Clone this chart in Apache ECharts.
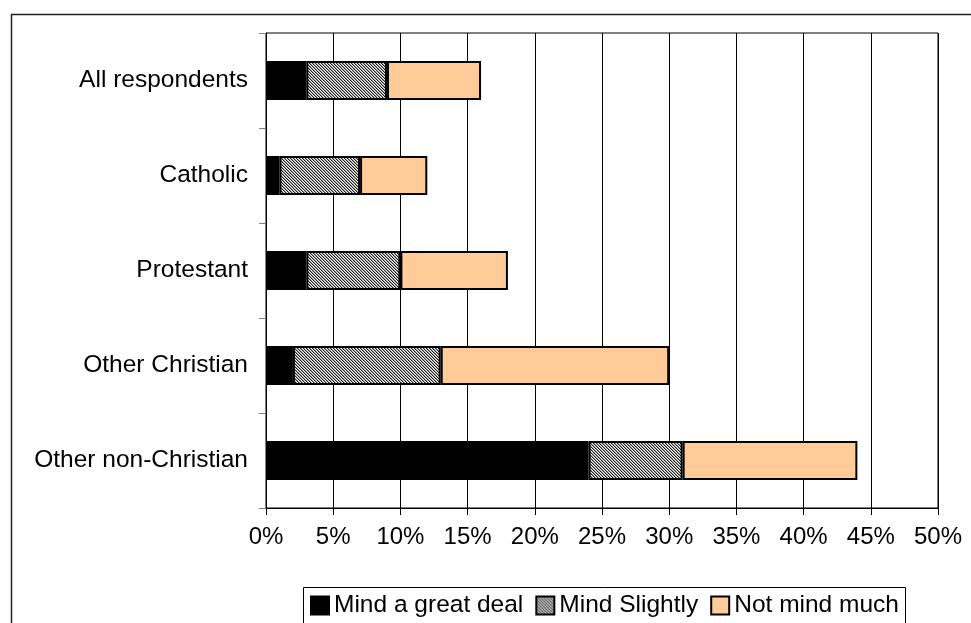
<!DOCTYPE html>
<html>
<head>
<meta charset="utf-8">
<script src="https://cdn.jsdelivr.net/npm/echarts@6/dist/echarts.min.js"></script>
<style>
html,body{margin:0;padding:0;background:#fff;}
#chart{width:971px;height:623px;}
</style>
</head>
<body>
<div id="chart"></div>
<script>
var categories = ['All respondents', 'Catholic', 'Protestant', 'Other Christian', 'Other non-Christian'];
var mindGreatDeal = [3, 1, 3, 2, 24];
var mindSlightly = [6, 6, 7, 11, 7];
var notMindMuch = [7, 5, 8, 17, 13];
var xTicks = [0, 5, 10, 15, 20, 25, 30, 35, 40, 45, 50];

function hatch() {
  var c = document.createElement('canvas');
  c.width = 3; c.height = 3;
  var ctx = c.getContext('2d');
  ctx.fillStyle = '#f4f4f4';
  ctx.fillRect(0, 0, 3, 3);
  for (var y = 0; y < 3; y++) {
    for (var x = 0; x < 3; x++) {
      var k = ((x - y) % 3 + 3) % 3;
      if (k === 0) { ctx.fillStyle = '#222'; ctx.fillRect(x, y, 1, 1); }
      else if (k === 1) { ctx.fillStyle = '#9a9a9a'; ctx.fillRect(x, y, 1, 1); }
    }
  }
  return c;
}

var font = '"Liberation Sans", Arial, sans-serif';
var chart = echarts.init(document.getElementById('chart'), null, {renderer: 'canvas'});
var barStyle = {borderColor: '#000', borderWidth: 2};

chart.setOption({
  backgroundColor: '#fff',
  animation: false,
  textStyle: {fontFamily: font},
  grid: {left: 266, right: 33, top: 33, bottom: 115, show: true, borderColor: '#000', borderWidth: 1},
  legend: {
    left: 305, top: 588,
    itemWidth: 18, itemHeight: 18, itemGap: 12,
    icon: 'rect',
    textStyle: {fontSize: 24.5, color: '#000', fontFamily: font},
    data: ['Mind a great deal', 'Mind Slightly', 'Not mind much']
  },
  xAxis: {
    type: 'value', min: xTicks[0], max: xTicks[xTicks.length - 1], interval: 5,
    axisLine: {show: true, lineStyle: {color: '#000'}},
    axisTick: {show: true, length: 7, lineStyle: {color: '#000'}},
    axisLabel: {formatter: '{value}%', fontSize: 24, color: '#000', margin: 17, fontFamily: font},
    splitLine: {show: true, lineStyle: {color: '#000', width: 1}}
  },
  yAxis: {
    type: 'category', data: categories, inverse: true,
    axisLine: {show: true, lineStyle: {color: '#000'}},
    axisTick: {show: true, length: 7, lineStyle: {color: '#808080'}},
    axisLabel: {fontSize: 24.5, color: '#000', margin: 18, fontFamily: font}
  },
  series: [
    {name: 'Mind a great deal', type: 'bar', stack: 't', barWidth: 39, data: mindGreatDeal,
     itemStyle: Object.assign({color: '#000'}, barStyle)},
    {name: 'Mind Slightly', type: 'bar', stack: 't', barWidth: 39, data: mindSlightly,
     itemStyle: Object.assign({color: {image: hatch(), repeat: 'repeat'}}, barStyle)},
    {name: 'Not mind much', type: 'bar', stack: 't', barWidth: 39, data: notMindMuch,
     itemStyle: Object.assign({color: '#FFCC99'}, barStyle)}
  ],
  graphic: [
    {type: 'rect', left: 9, top: 12, shape: {width: 1000, height: 700}, silent: true,
     style: {fill: null, stroke: '#222', lineWidth: 1.5}, z: -1},
    {type: 'rect', left: 301, top: 585, shape: {width: 602, height: 60}, silent: true,
     style: {fill: null, stroke: '#000', lineWidth: 1}, z: -1}
  ]
});
</script>
</body>
</html>
